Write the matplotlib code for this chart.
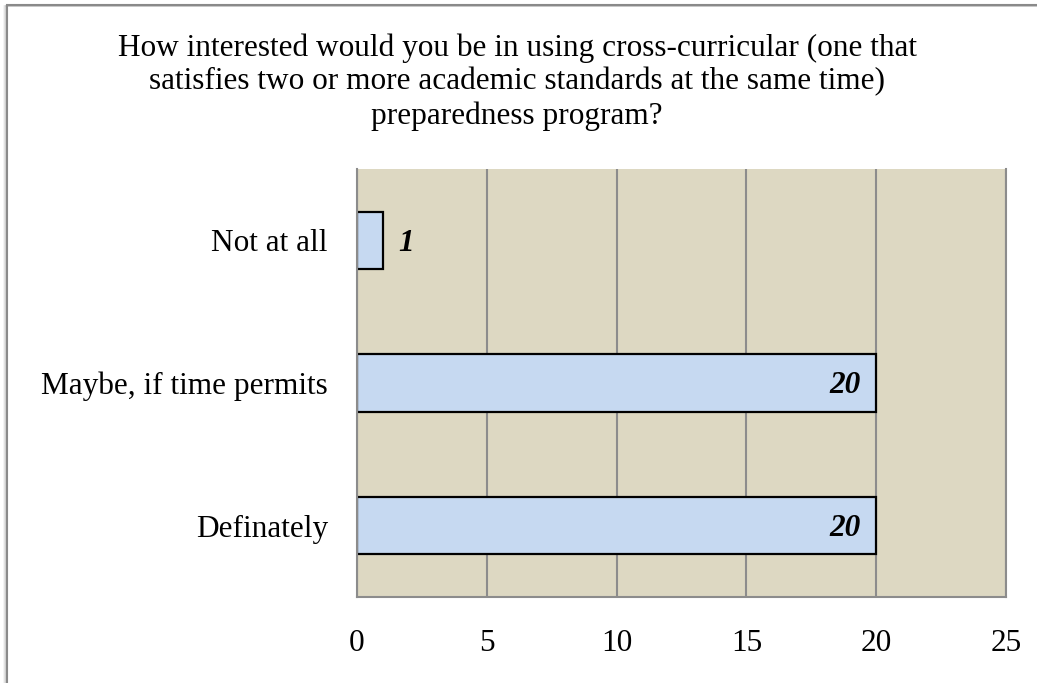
import matplotlib.pyplot as plt
from matplotlib.patches import Rectangle

categories = ["Definately", "Maybe, if time permits", "Not at all"]
counts = [20, 20, 1]
xticks = [0, 5, 10, 15, 20, 25]
title = ("How interested would you be in using cross-curricular (one that\n"
         "satisfies two or more academic standards at the same time)\n"
         "preparedness program?")

plt.rcParams['font.family'] = ['Liberation Serif', 'DejaVu Serif']

fig = plt.figure(figsize=(10.37, 6.83), dpi=100)

# outer chart frame with a soft shadow on the left
for i, a in enumerate([0.10, 0.18, 0.28]):
    fig.patches.append(Rectangle((4 / 1037 + i / 1037, -0.1), 1.2, 1.1 - 6 / 683,
                                 transform=fig.transFigure, fill=False,
                                 edgecolor='gray', alpha=a, linewidth=1.2))
fig.patches.append(Rectangle((7 / 1037, -0.1), 1.2, 1.1 - 5 / 683,
                             transform=fig.transFigure, fill=False,
                             edgecolor='#8a8a8a', linewidth=1.5))

ax = fig.add_axes([357 / 1037, 1 - 597 / 683, 649 / 1037, 428 / 683])
ax.set_facecolor('#DDD8C2')
ax.set_axisbelow(True)

ypos = range(len(categories))
ax.barh(ypos, counts, height=0.4, color='#C6D9F1', edgecolor='black', linewidth=1.6)

for y, v in zip(ypos, counts):
    if v > 2:
        ax.annotate(str(v), (v, y), xytext=(-11, -2), textcoords='offset points',
                    ha='right', va='center', fontsize=22.5, fontweight='bold', style='italic')
    else:
        ax.annotate(str(v), (v, y), xytext=(11, -2), textcoords='offset points',
                    ha='left', va='center', fontsize=22.5, fontweight='bold', style='italic')

ax.set_xlim(0, 25)
ax.set_ylim(-0.5, 2.5)
ax.set_xticks(xticks)
ax.set_yticks(list(ypos))
ax.set_yticklabels(categories)
ax.grid(axis='x', color='#8c8c8c', linewidth=1.5)
ax.tick_params(axis='both', length=0, labelsize=22.5)
ax.tick_params(axis='x', pad=23)
ax.tick_params(axis='y', pad=21)
for side in ['left', 'bottom', 'right']:
    ax.spines[side].set_color('#8c8c8c')
    ax.spines[side].set_linewidth(1.5)
ax.spines['top'].set_visible(False)

fig.text(517 / 1037, 1 - 82 / 683, title, ha='center', va='center',
         fontsize=22.5, linespacing=1.2)

fig.savefig('out.png', dpi=100)
